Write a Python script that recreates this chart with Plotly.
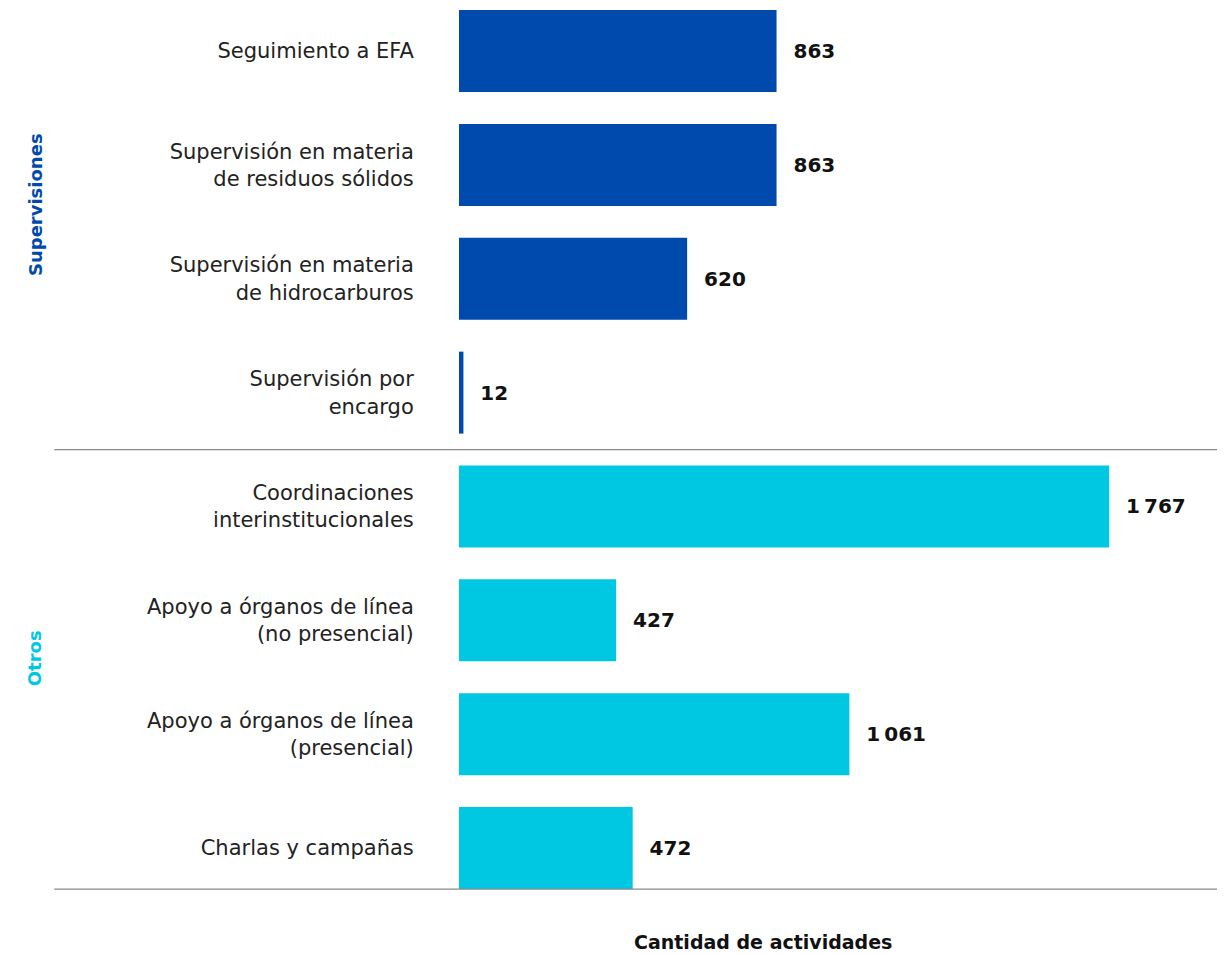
import plotly.graph_objects as go

# data
categories = [
    "Seguimiento a EFA",
    "Supervisión en materia<br>de residuos sólidos",
    "Supervisión en materia<br>de hidrocarburos",
    "Supervisión por<br>encargo",
    "Coordinaciones<br>interinstitucionales",
    "Apoyo a órganos de línea<br>(no presencial)",
    "Apoyo a órganos de línea<br>(presencial)",
    "Charlas y campañas",
]
values = [863, 863, 620, 12, 1767, 427, 1061, 472]
groups = ["Supervisiones"] * 4 + ["Otros"] * 4

BLUE = "#004AAD"
CYAN = "#00C8E2"
FONT = "DejaVu Sans"

colors = [BLUE if g == "Supervisiones" else CYAN for g in groups]
labels = ["  " + f"{v:,}".replace(",", "\u2009") for v in values]
ypos = list(range(len(categories)))

fig = go.Figure()
fig.add_trace(
    go.Bar(
        x=values,
        y=ypos,
        orientation="h",
        marker=dict(color=colors, line_width=0),
        text=labels,
        textposition="outside",
        cliponaxis=False,
        textfont=dict(family=FONT, size=20, color="#111111", weight="bold"),
        width=0.72,
        hoverinfo="skip",
    )
)

# the page body adds an 8px offset, so margins are trimmed to compensate
fig.update_layout(
    width=1229,
    height=954,
    margin=dict(l=451, r=20, t=0, b=62, autoexpand=False),
    plot_bgcolor="white",
    paper_bgcolor="white",
    showlegend=False,
    font=dict(family=FONT, size=21, color="#222222"),
)
fig.update_xaxes(range=[0, 2060], visible=False, automargin=False)
fig.update_yaxes(
    range=[7.456, -0.378],
    tickvals=ypos,
    ticktext=categories,
    showgrid=False,
    zeroline=False,
    automargin=False,
    ticks="outside",
    ticklen=40,
    tickcolor="rgba(0,0,0,0)",
    tickfont=dict(family=FONT, size=21, color="#222222"),
)

# separator lines
for yv in [3.5, 7.36]:
    fig.add_shape(
        type="line", xref="paper", yref="y", x0=-0.534, x1=1.0, y0=yv, y1=yv,
        line=dict(color="#8a8a8a", width=1.2),
    )

# group labels
fig.add_annotation(
    text="<b>Supervisiones</b>", xref="paper", yref="y", x=-0.559, y=1.35,
    xanchor="center", yanchor="middle", textangle=-90, showarrow=False,
    font=dict(family=FONT, size=18, color=BLUE),
)
fig.add_annotation(
    text="<b>Otros</b>", xref="paper", yref="y", x=-0.559, y=5.33,
    xanchor="center", yanchor="middle", textangle=-90, showarrow=False,
    font=dict(family=FONT, size=18, color=CYAN),
)

# axis title
fig.add_annotation(
    text="<b>Cantidad de actividades</b>", xref="paper", yref="paper", x=0.401, y=-0.047,
    xanchor="center", yanchor="middle", showarrow=False,
    font=dict(family=FONT, size=19, color="#111111"),
)

fig.write_html("out.html")
